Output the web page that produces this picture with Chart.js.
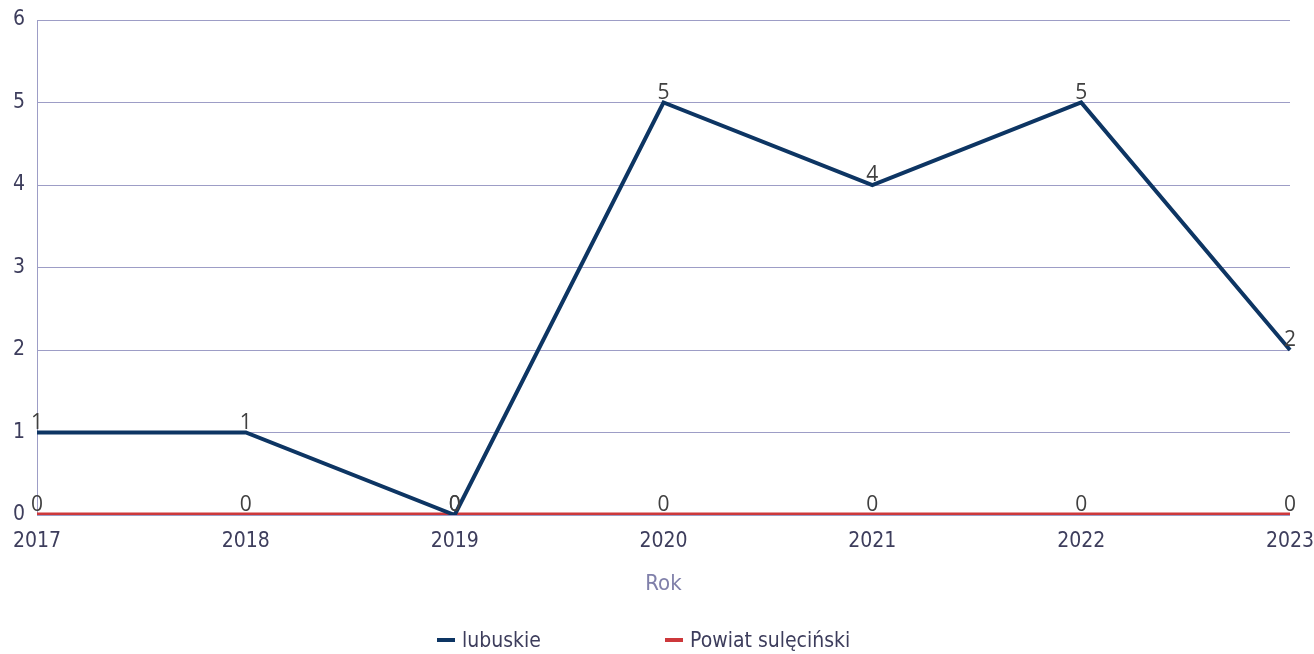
<!DOCTYPE html>
<html>
<head>
<meta charset="utf-8">
<script src="https://cdn.jsdelivr.net/npm/chart.js@4.4.1/dist/chart.umd.min.js"></script>
<style>
  html, body { margin: 0; padding: 0; background: #ffffff; }
  #wrap { position: relative; width: 1314px; height: 654px; }
  #legend { position: absolute; left: 0; top: 626px; width: 1314px; height: 28px;
    font-family: "DejaVu Sans Condensed", "DejaVu Sans", sans-serif; font-stretch: condensed; font-size: 21px; color: #3d3d5c; }
  .item { position: absolute; top: 0; white-space: nowrap; line-height: 28px; }
  .mark { display: inline-block; width: 18px; height: 4px; vertical-align: middle; margin-right: 7px; position: relative; top: -1px; }
</style>
</head>
<body>
<div id="wrap">
  <canvas id="c" width="1314" height="654"></canvas>
  <div id="legend"></div>
</div>
<script>
const categories = ['2017', '2018', '2019', '2020', '2021', '2022', '2023'];
const lubuskie = [1, 1, 0, 5, 4, 5, 2];
const powiatSulecinski = [0, 0, 0, 0, 0, 0, 0];
const seriesNames = ['lubuskie', 'Powiat sulęciński'];
const seriesColors = ['#0d3563', '#cd383b'];
const yTicks = [0, 1, 2, 3, 4, 5, 6];
const axisTitle = 'Rok';

const gridColor = '#9d9dc6';
const tickColor = '#3d3d5c';
const tickFont = { family: '"DejaVu Sans Condensed", "DejaVu Sans", sans-serif', size: 21 };

const dataLabels = {
  id: 'dataLabels',
  afterDatasetsDraw(chart) {
    const ctx = chart.ctx;
    ctx.save();
    ctx.font = '21px "Open Sans", sans-serif';
    ctx.fillStyle = '#404040';
    ctx.textAlign = 'center';
    ctx.textBaseline = 'alphabetic';
    chart.data.datasets.forEach((ds, i) => {
      const meta = chart.getDatasetMeta(i);
      meta.data.forEach((pt, j) => {
        ctx.fillText(String(ds.data[j]), pt.x, pt.y - 4);
      });
    });
    ctx.restore();
  }
};

new Chart(document.getElementById('c'), {
  type: 'line',
  data: {
    labels: categories,
    datasets: [
      { label: seriesNames[0], data: lubuskie, borderColor: seriesColors[0], backgroundColor: seriesColors[0],
        borderWidth: 4, pointRadius: 0, tension: 0, order: 0 },
      { label: seriesNames[1], data: powiatSulecinski, borderColor: seriesColors[1], backgroundColor: seriesColors[1],
        borderWidth: 5, pointRadius: 0, tension: 0, order: 1 }
    ]
  },
  options: {
    responsive: false,
    animation: false,
    layout: { padding: { top: 20, right: 24, bottom: 57, left: 0 } },
    plugins: {
      legend: { display: false },
      tooltip: { enabled: false }
    },
    scales: {
      x: {
        offset: false,
        grid: { display: false, drawTicks: false },
        border: { display: false },
        ticks: { color: tickColor, font: tickFont, padding: 14, maxRotation: 0, autoSkip: false },
        title: { display: true, text: axisTitle, color: '#8080aa', font: { family: '"DejaVu Sans Condensed", "DejaVu Sans", sans-serif', size: 22 }, padding: 0 },
        afterFit(scale) { scale.height = 82; scale.paddingLeft = 0; scale.paddingRight = 0; }
      },
      y: {
        min: 0, max: 6,
        afterBuildTicks(scale) { scale.ticks = yTicks.map(v => ({ value: v })); },
        grid: { color: gridColor, lineWidth: 1, drawTicks: false },
        border: { display: true, color: gridColor, width: 1 },
        ticks: { color: tickColor, font: tickFont, padding: 12 },
        afterFit(scale) { scale.width = 37; scale.paddingTop = 0; scale.paddingBottom = 0; }
      }
    }
  },
  plugins: [dataLabels]
});

const legendEl = document.getElementById('legend');
const legendX = [437, 665];
seriesNames.forEach((name, i) => {
  const d = document.createElement('div');
  d.className = 'item';
  d.style.left = legendX[i] + 'px';
  const m = document.createElement('span');
  m.className = 'mark';
  m.style.background = seriesColors[i];
  d.appendChild(m);
  d.appendChild(document.createTextNode(name));
  legendEl.appendChild(d);
});
</script>
</body>
</html>
